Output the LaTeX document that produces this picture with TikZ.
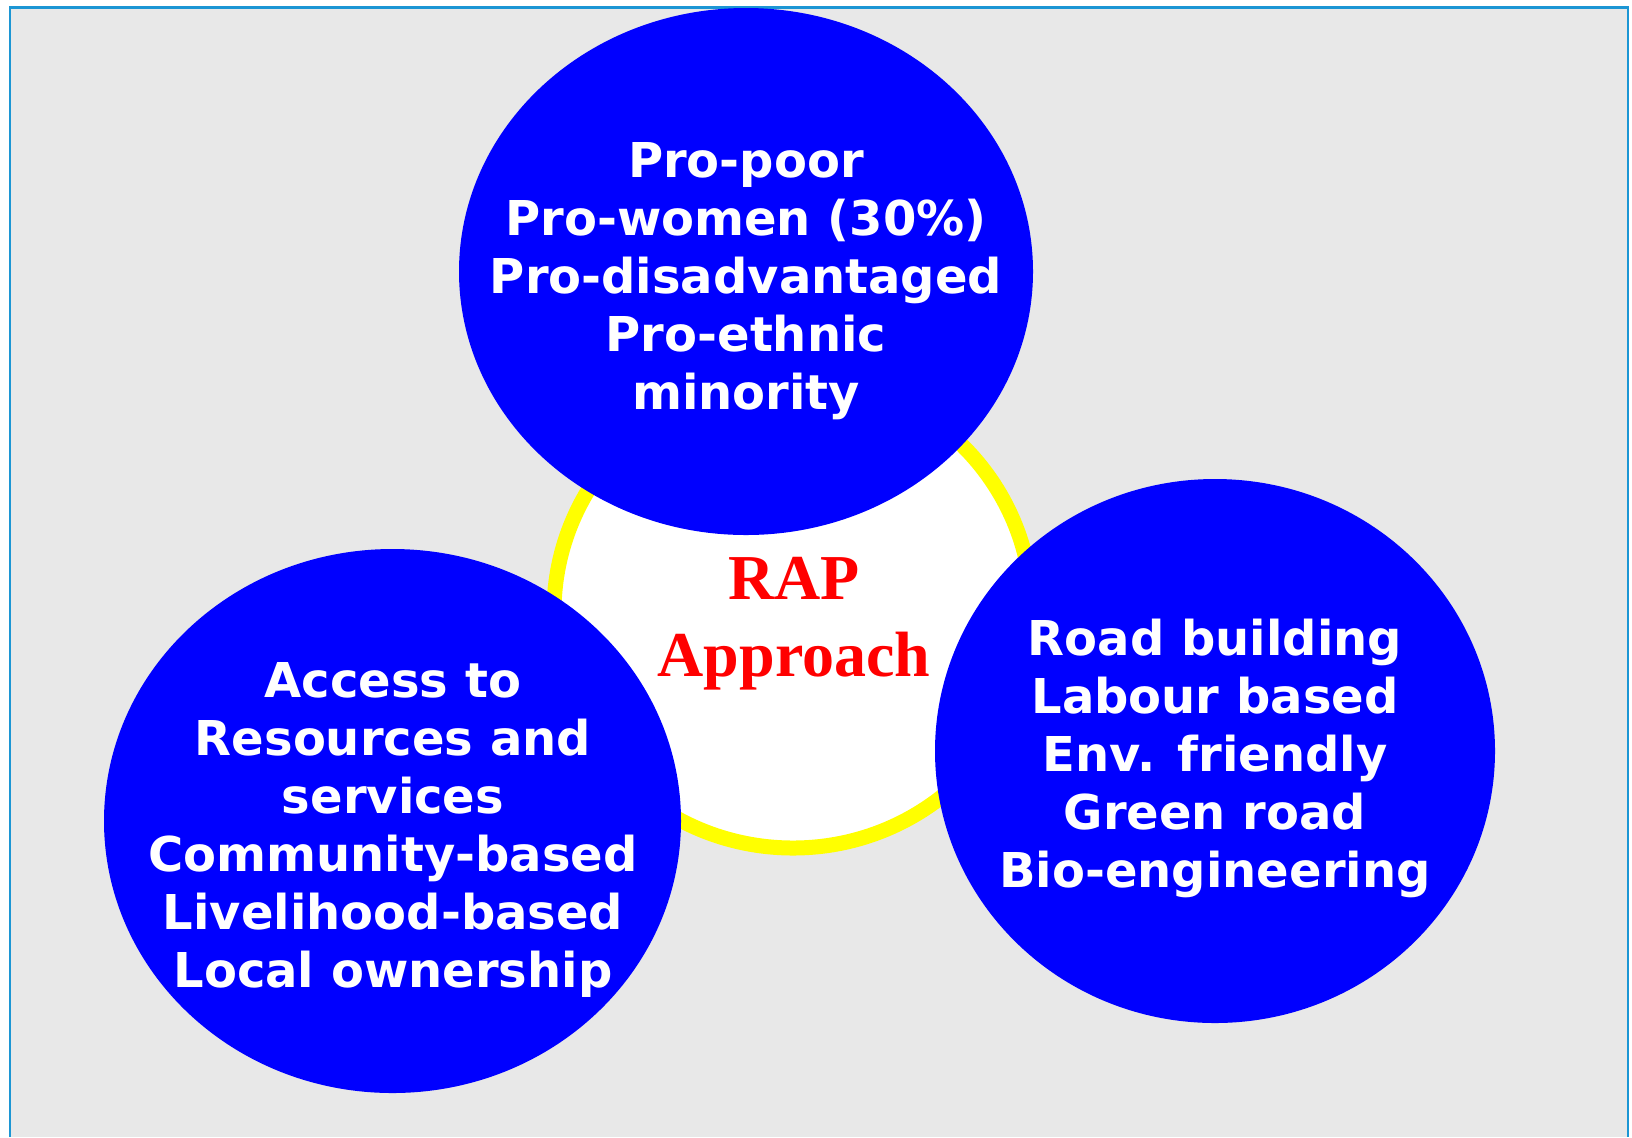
\documentclass[tikz,border=0pt]{standalone}
\usepackage{fontspec}
\setmainfont{DejaVu Sans}
\newfontfamily\rapfont{Liberation Serif}
\usetikzlibrary{shapes.geometric}
\definecolor{bggray}{RGB}{232,232,232}
\definecolor{frameblue}{RGB}{28,150,212}
\definecolor{pureblue}{RGB}{0,0,255}
\definecolor{pureyellow}{RGB}{255,255,0}
\definecolor{purered}{RGB}{255,0,0}
\tikzset{
  bubble/.style={ellipse, fill=pureblue, draw=none, inner sep=0pt, outer sep=0pt},
  bubbletext/.style={align=center, text=white, inner sep=0pt,
    font=\fontsize{24pt}{29pt}\selectfont\bfseries},
  hubring/.style={ellipse, draw=pureyellow, fill=white, line width=7.5pt, inner sep=0pt},
  hubtext/.style={align=center, text=purered, inner sep=0pt,
    font=\rapfont\fontsize{32pt}{38.5pt}\selectfont\bfseries}
}
\begin{document}
\begin{tikzpicture}[x=0.5pt,y=-0.5pt]
  \fill[white] (0,0) rectangle (1632,1137);
  \useasboundingbox (0,0) rectangle (1632,1137);
  \fill[bggray] (10,7.5) rectangle (1628,1137);
  \draw[frameblue, line width=1.2pt] (10,1137) -- (10,7.5) -- (1628,7.5) -- (1628,1137);

  \node[hubring, minimum width=239pt, minimum height=236pt] (hub) at (793,612) {};
  \node[bubble, minimum width=287pt, minimum height=263.5pt] (top) at (746,271.5) {};
  \node[bubble, minimum width=288.5pt, minimum height=272pt] (left) at (392.5,821) {};
  \node[bubble, minimum width=280pt, minimum height=272pt] (right) at (1215,751) {};

  \node[bubbletext] (toptext) at (746,281) {Pro-poor\\Pro-women (30\%)\\Pro-disadvantaged\\Pro-ethnic\\minority};
  \node[bubbletext] (lefttext) at (393,830) {Access to\\Resources and\\services\\Community-based\\Livelihood-based\\Local ownership};
  \node[bubbletext] (righttext) at (1215,758) {Road building\\Labour based\\Env. friendly\\Green road\\Bio-engineering};
  \node[hubtext] (hubtext) at (794,624) {RAP\\Approach};
\end{tikzpicture}
\end{document}
